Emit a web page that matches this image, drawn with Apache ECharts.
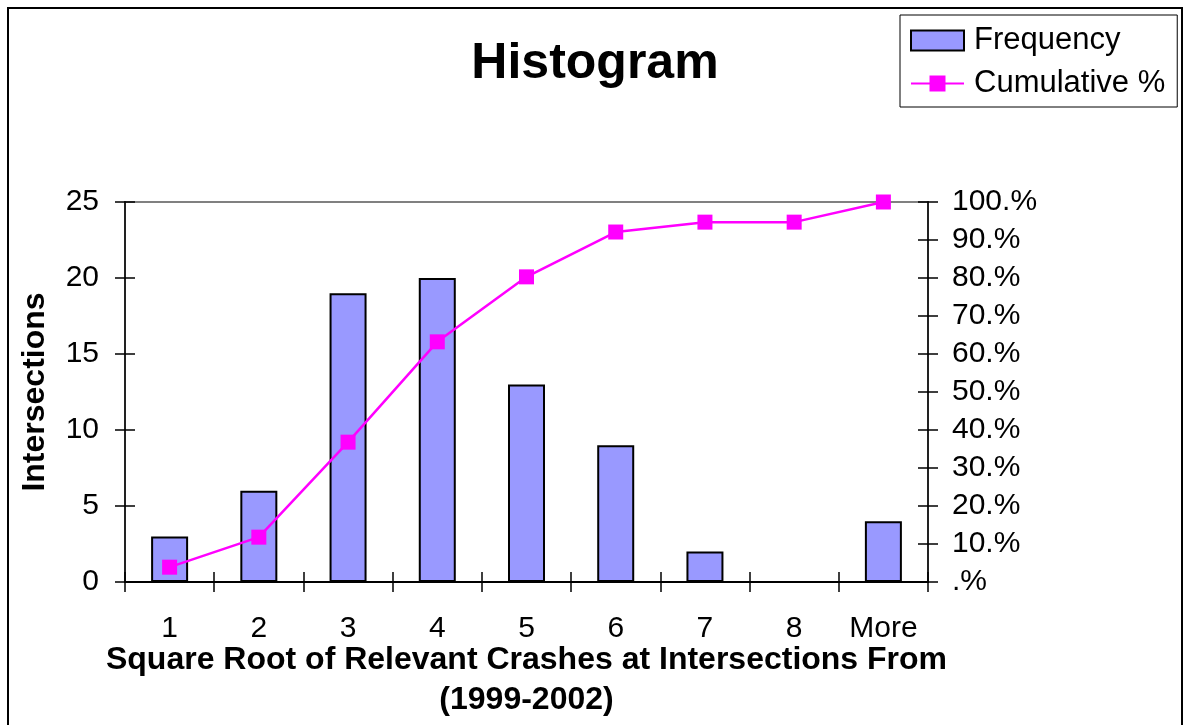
<!DOCTYPE html>
<html>
<head>
<meta charset="utf-8">
<style>
  html, body { margin: 0; padding: 0; background: #fff; }
  #chart { width: 1185px; height: 725px; }
</style>
<script src="https://cdn.jsdelivr.net/npm/echarts@6/dist/echarts.min.js"></script>
</head>
<body>
<div id="chart"></div>
<script>
// values
const bins = ["1", "2", "3", "4", "5", "6", "7", "8", "More"];
const frequency = [3, 6, 19, 20, 13, 9, 2, 0, 4];
const cumulativePct = [3.9, 11.8, 36.8, 63.2, 80.3, 92.1, 94.7, 94.7, 100];

const FONT = "'Liberation Sans', Arial, sans-serif";
const AX = { color: "#000", fontFamily: FONT, fontSize: 30 };

const chart = echarts.init(document.getElementById("chart"));

const tickOut = { show: true, inside: false, length: 10, lineStyle: { color: "#000", width: 1.5 } };
const tickIn = { show: true, inside: true, length: 10, lineStyle: { color: "#000", width: 1.5 } };

const option = {
  backgroundColor: "#fff",
  animation: false,
  title: {
    text: "Histogram",
    left: 590,
    textAlign: "center",
    top: 34,
    textStyle: { color: "#000", fontFamily: FONT, fontSize: 50, fontWeight: "bold" },
  },
  legend: {
    left: 900,
    top: 15,
    orient: "vertical",
    padding: [10, 12, 8, 10],
    itemGap: 12,
    itemWidth: 53,
    itemHeight: 20,
    borderColor: "#000",
    borderWidth: 1,
    textStyle: { color: "#000", fontFamily: FONT, fontSize: 31, padding: [0, 0, 0, 5] },
    data: [{ name: "Frequency", icon: "rect" }, { name: "Cumulative %" }],
  },
  grid: {
    left: 125,
    right: 257,
    top: 202,
    bottom: 143,
    outerBoundsMode: "none",
    containLabel: false,
    show: true,
    borderColor: "#808080",
    borderWidth: 2,
  },
  xAxis: [
    {
      type: "category",
      data: bins,
      position: "bottom",
      axisLine: { lineStyle: { color: "#000", width: 2 } },
      axisTick: tickOut,
      axisLabel: Object.assign({ margin: 32, interval: 0 }, AX),
      name: "Square Root of Relevant Crashes at Intersections From\n(1999-2002)",
      nameLocation: "middle",
      nameGap: 58,
      nameMoveOverlap: false,
      nameTextStyle: { color: "#000", fontFamily: FONT, fontSize: 32, fontWeight: "bold", lineHeight: 40 },
    },
    {
      type: "category",
      data: bins,
      position: "bottom",
      axisLine: { show: false },
      axisTick: tickIn,
      axisLabel: { show: false },
    },
  ],
  yAxis: [
    {
      type: "value",
      position: "left",
      min: 0,
      max: 25,
      interval: 5,
      axisLine: { show: true, lineStyle: { color: "#222", width: 2 } },
      axisTick: tickOut,
      axisLabel: Object.assign({ margin: 26 }, AX),
      splitLine: { show: false },
      name: "Intersections",
      nameLocation: "middle",
      nameGap: 74,
      nameMoveOverlap: false,
      nameTextStyle: { color: "#000", fontFamily: FONT, fontSize: 32, fontWeight: "bold" },
    },
    {
      type: "value",
      position: "right",
      min: 0,
      max: 100,
      interval: 10,
      axisLine: { show: true, lineStyle: { color: "#222", width: 2 } },
      axisTick: tickOut,
      axisLabel: Object.assign({
        margin: 24,
        formatter: (v) => (v === 0 ? ".%" : v + ".%"),
      }, AX),
      splitLine: { show: false },
    },
    {
      type: "value",
      position: "left",
      min: 0,
      max: 25,
      interval: 5,
      axisLine: { show: false },
      axisTick: tickIn,
      axisLabel: { show: false },
      splitLine: { show: false },
    },
    {
      type: "value",
      position: "right",
      min: 0,
      max: 100,
      interval: 10,
      axisLine: { show: false },
      axisTick: tickIn,
      axisLabel: { show: false },
      splitLine: { show: false },
    },
  ],
  series: [
    {
      name: "Frequency",
      type: "bar",
      data: frequency,
      barWidth: 37,
      itemStyle: { color: "#9999FF", borderColor: "#000", borderWidth: 2 },
    },
    {
      name: "Cumulative %",
      type: "line",
      yAxisIndex: 1,
      data: cumulativePct,
      symbol: "rect",
      symbolSize: 15,
      lineStyle: { color: "#FF00FF", width: 2.5 },
      itemStyle: { color: "#FF00FF" },
    },
  ],
  graphic: [
    {
      type: "rect",
      shape: { x: 8, y: 8, width: 1174, height: 730 },
      style: { fill: null, stroke: "#000", lineWidth: 2 },
      silent: true,
    },
  ],
};

chart.setOption(option);
</script>
</body>
</html>
